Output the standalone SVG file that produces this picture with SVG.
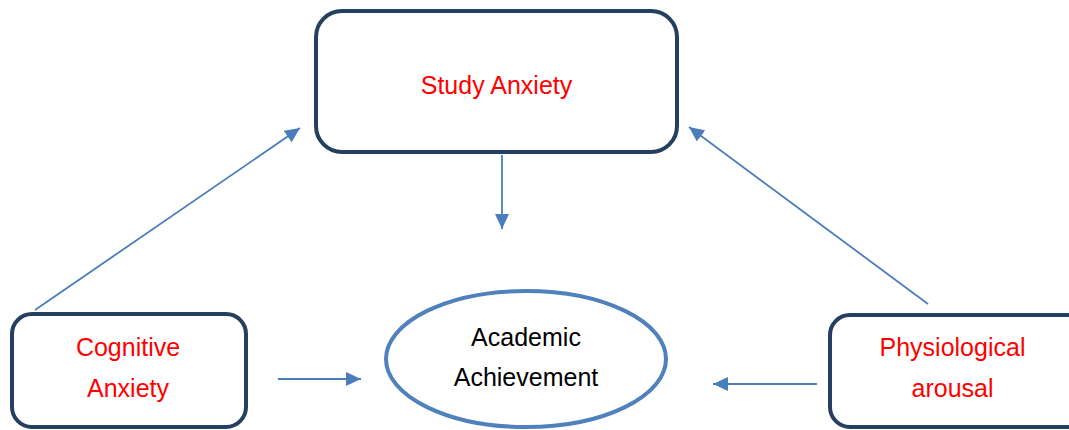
<svg xmlns="http://www.w3.org/2000/svg" width="1069" height="430" viewBox="0 0 1069 430">
<defs>
<marker id="ah" viewBox="0 0 15 14" refX="15" refY="7" markerWidth="15" markerHeight="14" markerUnits="userSpaceOnUse" orient="auto">
<path d="M0,0 L15,7 L0,14 z" fill="#4a7ebb"/>
</marker>
<style>
.box{fill:#fff;stroke:#253f60;stroke-width:4}
.lbl{font-family:"Liberation Sans",Arial,sans-serif;font-size:25px;text-anchor:middle}
.red{fill:#ff0000}
.blk{fill:#000}
.conn{stroke:#4a7ebb;stroke-width:1.8;fill:none}
</style>
</defs>
<rect width="1069" height="430" fill="#fff"/>
<g id="study-anxiety">
<rect class="box" x="316" y="11" width="361" height="141" rx="26"/>
<text class="lbl red" x="496.5" y="94">Study Anxiety</text>
</g>
<g id="cognitive-anxiety">
<rect class="box" x="12" y="314" width="234" height="113" rx="20"/>
<text class="lbl red" x="128" y="356">Cognitive</text>
<text class="lbl red" x="128" y="397">Anxiety</text>
</g>
<g id="physiological-arousal">
<rect class="box" x="830" y="315" width="260" height="112" rx="20"/>
<text class="lbl red" x="952.5" y="356">Physiological</text>
<text class="lbl red" x="952.5" y="397">arousal</text>
</g>
<g id="academic-achievement">
<ellipse cx="526" cy="359" rx="140" ry="68" fill="#fff" stroke="#4f81bd" stroke-width="4"/>
<text class="lbl blk" x="526" y="346">Academic</text>
<text class="lbl blk" x="526" y="386">Achievement</text>
</g>
<g id="connectors">
<line class="conn" x1="502" y1="155" x2="502" y2="229" marker-end="url(#ah)"/>
<line class="conn" x1="35" y1="310" x2="300" y2="128" marker-end="url(#ah)"/>
<line class="conn" x1="928" y1="304" x2="689" y2="127" marker-end="url(#ah)"/>
<line class="conn" x1="278" y1="379" x2="361" y2="379" marker-end="url(#ah)"/>
<line class="conn" x1="817" y1="384" x2="713" y2="384" marker-end="url(#ah)"/>
</g>
</svg>
